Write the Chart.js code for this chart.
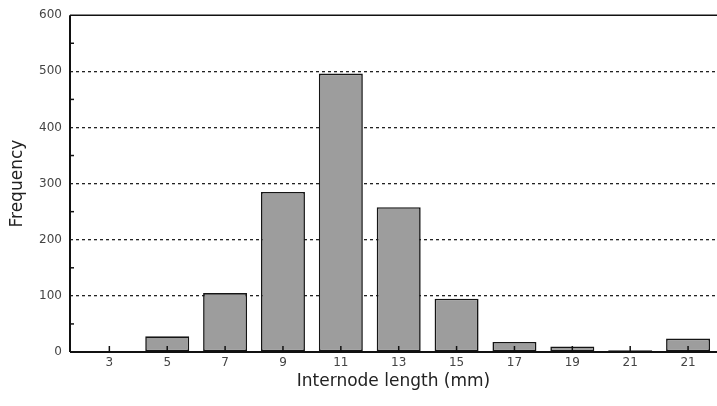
<!DOCTYPE html>
<html>
<head>
<meta charset="utf-8">
<script src="https://cdn.jsdelivr.net/npm/chart.js@4"></script>
<style>
  html, body { margin: 0; padding: 0; background: #ffffff; }
  #wrap { width: 717px; height: 406px; position: relative; }
</style>
</head>
<body>
<div id="wrap"><canvas id="c" width="717" height="406"></canvas></div>
<script>
const categories = ["3", "5", "7", "9", "11", "13", "15", "17", "19", "21", "21"];
const frequency = [2, 28, 105, 285, 496, 258, 95, 18, 10, 3, 24];
const yTicks = [0, 100, 200, 300, 400, 500, 600];
const xTitle = "Internode length (mm)";
const yTitle = "Frequency";

const points = frequency.map((v, i) => ({ x: i, y: v }));

const axisPlugin = {
  id: 'axisPlugin',
  afterDatasetsDraw(chart) {
    const { ctx, chartArea, scales } = chart;
    const x = scales.x, y = scales.y;
    ctx.save();
    ctx.strokeStyle = '#111';
    ctx.lineWidth = 1.6;
    ctx.beginPath();
    ctx.moveTo(chartArea.left, y.getPixelForValue(600));
    ctx.lineTo(chartArea.right, y.getPixelForValue(600));
    ctx.stroke();
    ctx.lineWidth = 2;
    ctx.beginPath();
    ctx.moveTo(chartArea.left, chartArea.top);
    ctx.lineTo(chartArea.left, chartArea.bottom);
    ctx.stroke();
    ctx.beginPath();
    ctx.moveTo(chartArea.left, chartArea.bottom);
    ctx.lineTo(chartArea.right, chartArea.bottom);
    ctx.stroke();
    ctx.lineWidth = 1.5;
    for (let v = 50; v < 600; v += 100) {
      const py = y.getPixelForValue(v);
      ctx.beginPath();
      ctx.moveTo(chartArea.left, py);
      ctx.lineTo(chartArea.left + 4, py);
      ctx.stroke();
    }
    categories.forEach((c, i) => {
      const px = x.getPixelForValue(i);
      ctx.beginPath();
      ctx.moveTo(px, chartArea.bottom);
      ctx.lineTo(px, chartArea.bottom - 6);
      ctx.stroke();
    });
    ctx.restore();
  }
};

const tickFont = { family: 'DejaVu Sans, sans-serif', size: 12 };
const titleFont = { family: 'DejaVu Sans, sans-serif', size: 17 };

new Chart(document.getElementById('c'), {
  type: 'bar',
  data: {
    datasets: [{
      data: points,
      backgroundColor: '#9d9d9d',
      borderColor: '#151515',
      borderWidth: 1.6,
      borderSkipped: false,
      categoryPercentage: 1,
      barPercentage: 0.76
    }]
  },
  options: {
    responsive: false,
    animation: false,
    devicePixelRatio: 1,
    layout: { padding: { top: 6, right: 0, left: 7, bottom: 14 } },
    plugins: { legend: { display: false }, tooltip: { enabled: false } },
    scales: {
      x: {
        type: 'linear',
        offset: false,
        min: -0.68,
        max: 10.5,
        afterFit(s) { s.height = 40; },
        afterBuildTicks(s) { s.ticks = categories.map((c, i) => ({ value: i })); },
        grid: { display: false, drawTicks: false, offset: false },
        border: { display: false },
        ticks: {
          autoSkip: false,
          maxRotation: 0,
          padding: 4,
          color: '#444',
          font: tickFont,
          callback: (v) => categories[v]
        },
        title: {
          display: true,
          text: xTitle,
          color: '#222',
          font: titleFont,
          padding: { top: 0, bottom: 0 }
        }
      },
      y: {
        min: 0,
        max: 600,
        afterFit(s) { s.width = 63; },
        afterBuildTicks(s) { s.ticks = yTicks.map(v => ({ value: v })); },
        grid: {
          drawTicks: false,
          color: (ctx) => (ctx.tick && ctx.tick.value > 0 && ctx.tick.value < 600) ? '#222' : 'rgba(0,0,0,0)',
          lineWidth: 1.3
        },
        border: { display: false, dash: [3, 3] },
        ticks: {
          padding: 8,
          color: '#444',
          font: tickFont
        },
        title: {
          display: true,
          text: yTitle,
          color: '#222',
          font: titleFont,
          padding: { top: 0, bottom: 0 }
        }
      }
    }
  },
  plugins: [axisPlugin]
});
</script>
</body>
</html>
